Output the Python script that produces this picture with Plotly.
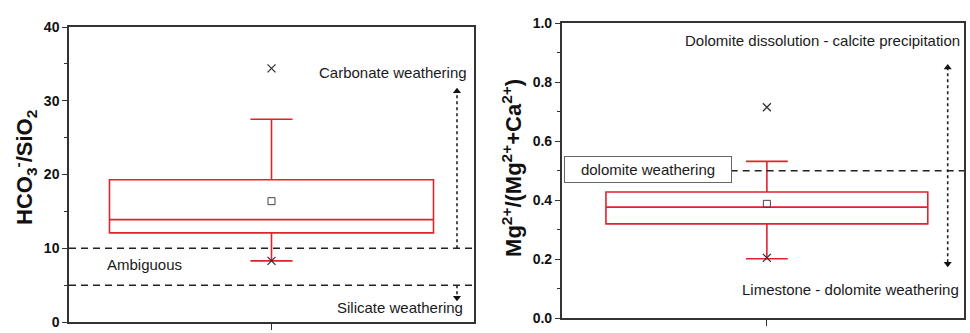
import plotly.graph_objects as go

# ---------------- data ----------------
# Left panel: HCO3-/SiO2
left_stats = dict(q1=12.1, median=13.9, q3=19.3, lower=8.3, upper=27.5, mean=16.4)
left_extremes = [34.4, 8.3]
left_thresholds = [10, 5]
# Right panel: Mg2+/(Mg2+ + Ca2+)
right_stats = dict(q1=0.32, median=0.377, q3=0.428, lower=0.202, upper=0.532, mean=0.388)
right_extremes = [0.715, 0.205]
right_threshold = 0.5

W, H = 970, 333
RED = "#e3222b"
GRAY = "#444444"
FONT = "Arial, Liberation Sans, sans-serif"

def px_x(p):
    return p / W

def px_y(p):
    return 1 - p / H

fig = go.Figure()

def add_box(stats, extremes, xa, ya):
    fig.add_trace(go.Box(
        x=[0], q1=[stats["q1"]], median=[stats["median"]], q3=[stats["q3"]],
        lowerfence=[stats["lower"]], upperfence=[stats["upper"]],
        width=0.8, whiskerwidth=0.13, boxpoints=False,
        line=dict(color=RED, width=1.6), fillcolor="rgba(0,0,0,0)",
        xaxis=xa, yaxis=ya, showlegend=False, hoverinfo="skip"))
    fig.add_trace(go.Scatter(
        x=[0], y=[stats["mean"]], mode="markers",
        marker=dict(symbol="square-open", size=7, color=GRAY, line=dict(width=1)),
        xaxis=xa, yaxis=ya, showlegend=False))
    fig.add_trace(go.Scatter(
        x=[0] * len(extremes), y=extremes, mode="markers",
        marker=dict(symbol="x-thin-open", size=8, color="#333", line=dict(width=1.3, color="#333")),
        xaxis=xa, yaxis=ya, showlegend=False))

add_box(left_stats, left_extremes, "x", "y")
add_box(right_stats, right_extremes, "x2", "y2")

# threshold dashed lines - left
for t in left_thresholds:
    fig.add_trace(go.Scatter(x=[-0.5, 0.5], y=[t, t], mode="lines",
                             line=dict(color="#222", width=1.5, dash="7px,5px"),
                             xaxis="x", yaxis="y", showlegend=False))
# right
fig.add_trace(go.Scatter(x=[-0.09, 0.492], y=[right_threshold, right_threshold], mode="lines",
                         line=dict(color="#222", width=1.5, dash="7px,5px"),
                         xaxis="x2", yaxis="y2", showlegend=False))

# dotted arrows - left
ax_l = 0.458
fig.add_trace(go.Scatter(x=[ax_l, ax_l], y=[10, 31], mode="lines",
                         line=dict(color="#222", width=1.6, dash="dot"),
                         xaxis="x", yaxis="y", showlegend=False))
fig.add_trace(go.Scatter(x=[ax_l], y=[31.3], mode="markers",
                         marker=dict(symbol="triangle-up", size=7, color="#111"),
                         xaxis="x", yaxis="y", showlegend=False))
fig.add_trace(go.Scatter(x=[ax_l, ax_l], y=[5, 3.3], mode="lines",
                         line=dict(color="#222", width=1.6, dash="dot"),
                         xaxis="x", yaxis="y", showlegend=False))
fig.add_trace(go.Scatter(x=[ax_l], y=[3.3], mode="markers",
                         marker=dict(symbol="triangle-down", size=7, color="#111"),
                         xaxis="x", yaxis="y", showlegend=False))
# dotted arrow - right (double headed)
ax_r = 0.4495
fig.add_trace(go.Scatter(x=[ax_r, ax_r], y=[0.19, 0.845], mode="lines",
                         line=dict(color="#222", width=1.6, dash="dot"),
                         xaxis="x2", yaxis="y2", showlegend=False))
fig.add_trace(go.Scatter(x=[ax_r, ax_r], y=[0.85, 0.185], mode="markers",
                         marker=dict(symbol=["triangle-up", "triangle-down"], size=7, color="#111"),
                         xaxis="x2", yaxis="y2", showlegend=False))

tf = dict(family=FONT, size=15, color="#1a1a1a")
ann = [
    dict(x=px_x(469), y=33.8, xref="paper", yref="y", text="Carbonate weathering", xanchor="right", yanchor="middle", showarrow=False, font=tf),
    dict(x=px_x(105), y=7.8, xref="paper", yref="y", text="Ambiguous", xanchor="left", yanchor="middle", showarrow=False, font=tf),
    dict(x=px_x(465), y=2.0, xref="paper", yref="y", text="Silicate weathering", xanchor="right", yanchor="middle", showarrow=False, font=tf),
    dict(x=px_x(683), y=0.941, xref="paper", yref="y2", text="Dolomite dissolution - calcite precipitation", xanchor="left", yanchor="middle",
         showarrow=False, font=tf),
    dict(x=px_x(740), y=0.098, xref="paper", yref="y2", text="Limestone - dolomite weathering", xanchor="left", yanchor="middle",
         showarrow=False, font=tf),
    dict(x=px_x(648), y=0.504, xref="paper", yref="y2", text="dolomite weathering", xanchor="center", yanchor="middle", showarrow=False,
         font=tf, bordercolor="#666", borderwidth=1, bgcolor="white", width=164, height=23, borderpad=1),
    # axis titles
    dict(x=px_x(25), y=px_y(168), xref="paper", yref="paper", text="HCO<sub>3</sub><sup>-</sup>/SiO<sub>2</sub>",
         textangle=-90, showarrow=False, xanchor="center", yanchor="middle",
         font=dict(family=FONT, size=22, color="#111", weight="bold")),
    dict(x=px_x(512), y=px_y(168), xref="paper", yref="paper", text="Mg<sup>2+</sup>/(Mg<sup>2+</sup>+Ca<sup>2+</sup>)",
         textangle=-90, showarrow=False, xanchor="center", yanchor="middle",
         font=dict(family=FONT, size=22, color="#111", weight="bold")),
]

axis_common = dict(showline=True, mirror=True, linecolor="#333", linewidth=1.5,
                   showgrid=False, zeroline=False)
tickfont = dict(family=FONT, size=14, color="#111", weight="bold")

fig.update_layout(
    width=W, height=H, margin=dict(l=0, r=0, t=0, b=0),
    paper_bgcolor="white", plot_bgcolor="white", showlegend=False,
    annotations=ann,
    xaxis=dict(domain=[px_x(69), px_x(474)], range=[-0.5, 0.5], tickvals=[0], ticktext=[""],
               ticks="outside", ticklen=6, tickcolor="#333", anchor="y", **axis_common),
    yaxis=dict(domain=[1 - 330 / H, 1 - 20 / H], range=[0, 40], dtick=10, ticks="outside", ticklen=5,
               tickcolor="#333", tickfont=tickfont, anchor="x",
               minor=dict(ticks="outside", ticklen=3, dtick=5, tickcolor="#333"), **axis_common),
    xaxis2=dict(domain=[px_x(561.7), px_x(964)], range=[-0.51, 0.49], tickvals=[0], ticktext=[""],
                ticks="outside", ticklen=6, tickcolor="#333", anchor="y2", **axis_common),
    yaxis2=dict(domain=[1 - 326 / H, 1 - 16 / H], range=[0, 1.0], dtick=0.2, tickformat=".1f",
                ticks="outside", ticklen=5, tickcolor="#333", tickfont=tickfont, anchor="x2",
                minor=dict(ticks="outside", ticklen=3, dtick=0.1, tickcolor="#333"), **axis_common),
)

fig.write_html("out.html")
